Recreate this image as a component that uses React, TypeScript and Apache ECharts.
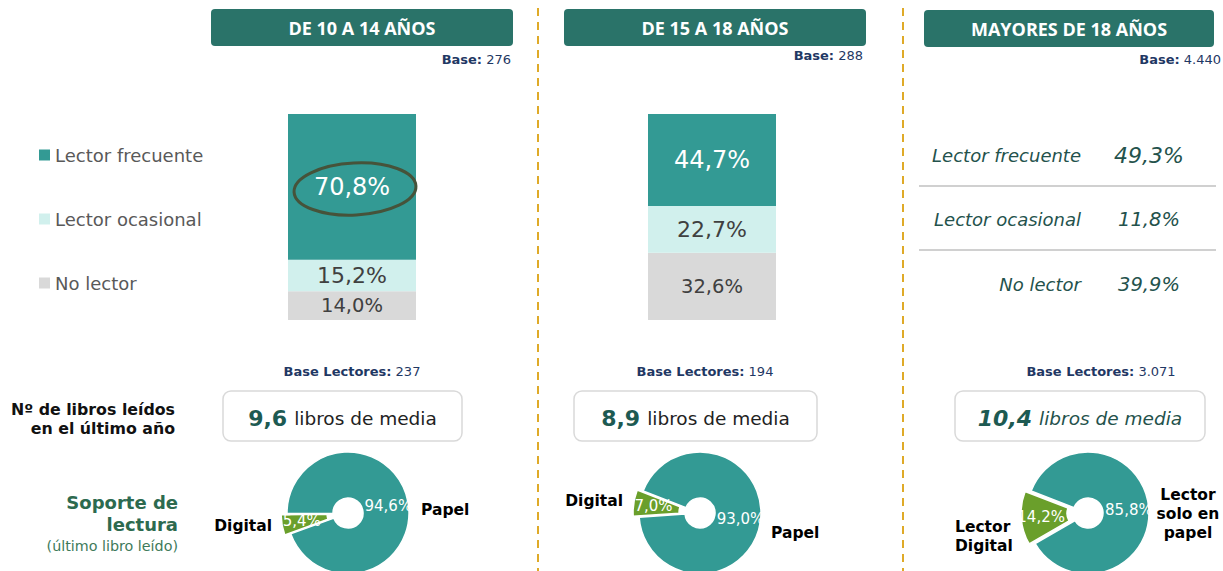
import React, { useEffect, useRef } from "react";
import * as echarts from "echarts";

const ageGroups = ["DE 10 A 14 AÑOS", "DE 15 A 18 AÑOS", "MAYORES DE 18 AÑOS"];
const bases = ["276", "288", "4.440"];
const readerBases = ["237", "194", "3.071"];
const readerTypes = ["Lector frecuente", "Lector ocasional", "No lector"];
const frecuente = [70.8, 44.7];
const ocasional = [15.2, 22.7];
const noLector = [14.0, 32.6];
const adultValues = [49.3, 11.8, 39.9];
const booksAvg = [9.6, 8.9, 10.4];
const digitalShare = [5.4, 7.0, 14.2];
const papelShare = [94.6, 93.0, 85.8];
const digitalLabels = ["Digital", "Digital", "Lector\nDigital"];
const papelLabels = ["Papel", "Papel", "Lector\nsolo en\npapel"];

const FONT = "'DejaVu Sans', Verdana, sans-serif";
const TEAL = "#339a94";
const LIGHT = "#d1f0ed";
const GREY = "#d9d9d9";
const HEADER = "#2a7369";
const GREEN = "#6a9f2b";
const NAVY = "#1f3864";
const DARKTEAL = "#24524c";

const fmt = (v: number) => v.toFixed(1).replace(".", ",") + "%";

export default function App() {
  const ref = useRef<HTMLDivElement>(null);
  useEffect(() => {
    if (!ref.current) return;
    const chart = echarts.init(ref.current, null, { renderer: "svg" });

    const barLefts = [288, 648];
    const grids = barLefts.map((l) => ({ left: l, width: 128, top: 114, height: 206 }));
    const xAxes = barLefts.map((_, i) => ({ type: "category", gridIndex: i, data: [ageGroups[i]], show: false }));
    const yAxes = barLefts.map((_, i) => ({ type: "value", gridIndex: i, min: 0, max: 100, show: false }));
    const barSeries: any[] = [];
    barLefts.forEach((_, i) => {
      const parts = [
        { name: readerTypes[2], v: noLector[i], c: GREY, lc: "#404040", fs: 19.5 },
        { name: readerTypes[1], v: ocasional[i], c: LIGHT, lc: "#404040", fs: 22 },
        { name: readerTypes[0], v: frecuente[i], c: TEAL, lc: "#fff", fs: 24 },
      ];
      parts.forEach((p) => {
        barSeries.push({
          type: "bar",
          name: p.name,
          stack: "s" + i,
          xAxisIndex: i,
          yAxisIndex: i,
          barWidth: 128,
          silent: true,
          itemStyle: { color: p.c },
          data: [p.v],
          label: {
            show: true,
            position: "inside",
            color: p.lc,
            fontSize: p.fs,
            fontFamily: FONT,
            formatter: (d: any) => fmt(d.value),
          },
        });
      });
    });

    const pieCenters = [
      [348, 513],
      [700, 513],
      [1088, 513],
    ];
    const startAngles = [200, 184, 210];
    const pieSeries = pieCenters.map((c, i) => ({
      type: "pie",
      center: c,
      radius: [15, 61],
      startAngle: startAngles[i],
      clockwise: true,
      selectedMode: "single",
      selectedOffset: 6,
      avoidLabelOverlap: false,
      silent: true,
      emphasis: { disabled: true },
      itemStyle: { borderColor: "#fff", borderWidth: 1.5 },
      label: {
        show: true,
        position: "inside",
        color: "#fff",
        fontSize: 15,
        fontFamily: FONT,
        formatter: (d: any) => fmt(d.value),
      },
      labelLine: { show: false },
      data: [
        { name: "Digital", value: digitalShare[i], selected: true, itemStyle: { color: GREEN } },
        { name: "Papel", value: papelShare[i], itemStyle: { color: TEAL } },
      ],
    }));

    const headerBoxes = [
      { x: 211, w: 302, y: 9 },
      { x: 564, w: 302, y: 9 },
      { x: 924, w: 290, y: 10 },
    ];
    const baseRight = [
      [511, 59],
      [863, 55],
      [1221, 59],
    ];
    const lectorCenters = [352, 705, 1101];
    const mediaBoxes = [
      { x: 223, w: 239 },
      { x: 574, w: 243 },
      { x: 955, w: 250 },
    ];

    const g: any[] = [];
    [538, 903].forEach((x) =>
      g.push({
        type: "line",
        shape: { x1: x, y1: 8, x2: x, y2: 571 },
        style: { stroke: "#dfaa28", lineWidth: 2, lineDash: [8, 6] },
      })
    );
    headerBoxes.forEach((b, i) => {
      g.push({
        type: "rect",
        shape: { x: b.x, y: b.y, width: b.w, height: 37, r: 4 },
        style: { fill: HEADER },
      });
      g.push({
        type: "text",
        x: b.x + b.w / 2,
        y: b.y + 19,
        style: {
          text: ageGroups[i],
          align: "center",
          verticalAlign: "middle",
          fill: "#fff",
          fontSize: 18,
          fontWeight: "bold",
          fontFamily: "'Open Sans', sans-serif",
        },
      });
      g.push({
        type: "text",
        x: baseRight[i][0],
        y: baseRight[i][1],
        style: {
          text: "{b|Base:} " + bases[i],
          align: "right",
          verticalAlign: "middle",
          fill: NAVY,
          fontSize: 13,
          fontFamily: FONT,
          rich: { b: { fontWeight: "bold", fontSize: 13, fontFamily: FONT, fill: NAVY } },
        },
      });
      g.push({
        type: "text",
        x: lectorCenters[i],
        y: 371,
        style: {
          text: "{b|Base Lectores:} " + readerBases[i],
          align: "center",
          verticalAlign: "middle",
          fill: NAVY,
          fontSize: 13,
          fontFamily: FONT,
          rich: { b: { fontWeight: "bold", fontSize: 13, fontFamily: FONT, fill: NAVY } },
        },
      });
      const m = mediaBoxes[i];
      g.push({
        type: "rect",
        shape: { x: m.x, y: 391, width: m.w, height: 50, r: 8 },
        style: { fill: "#fff", stroke: "#d9d9d9", lineWidth: 1.5 },
      });
      const it = i === 2 ? "italic" : "normal";
      g.push({
        type: "text",
        x: m.x + m.w / 2,
        y: 418,
        style: {
          text: "{b|" + booksAvg[i].toFixed(1).replace(".", ",") + "}{n|libros de media}",
          align: "center",
          verticalAlign: "middle",
          rich: {
            b: {
              fontWeight: "bold",
              fontSize: 22,
              fontFamily: FONT,
              fill: "#1d5a52",
              fontStyle: it,
              padding: [0, 7, 0, 0],
            },
            n: { fontSize: 18.5, fontFamily: FONT, fill: i === 2 ? DARKTEAL : "#222", fontStyle: it },
          },
        },
      });
    });

    g.push({
      type: "ellipse",
      z: 100,
      x: 355,
      y: 189,
      rotation: 0.05,
      shape: { cx: 0, cy: 0, rx: 61, ry: 26 },
      style: { fill: "none", stroke: "#46533a", lineWidth: 3 },
    });

    const rowY = [155, 219, 284];
    readerTypes.forEach((t, i) => {
      g.push({
        type: "text",
        x: 1081,
        y: rowY[i],
        style: {
          text: t,
          align: "right",
          verticalAlign: "middle",
          fill: DARKTEAL,
          fontSize: 18,
          fontStyle: "italic",
          fontFamily: FONT,
        },
      });
      g.push({
        type: "text",
        x: 1149,
        y: rowY[i],
        style: {
          text: fmt(adultValues[i]),
          align: "center",
          verticalAlign: "middle",
          fill: DARKTEAL,
          fontSize: i === 0 ? 22 : 19.5,
          fontStyle: "italic",
          fontFamily: FONT,
        },
      });
    });
    [186, 250].forEach((y) =>
      g.push({
        type: "line",
        shape: { x1: 919, y1: y, x2: 1216, y2: y },
        style: { stroke: "#d0d0d0", lineWidth: 2 },
      })
    );

    g.push({
      type: "text",
      x: 175,
      y: 419,
      style: {
        text: "Nº de libros leídos\nen el último año",
        align: "right",
        verticalAlign: "middle",
        fill: "#111",
        fontSize: 15.8,
        lineHeight: 19,
        fontWeight: "bold",
        fontFamily: FONT,
      },
    });
    g.push({
      type: "text",
      x: 178,
      y: 513,
      style: {
        text: "Soporte de\nlectura",
        align: "right",
        verticalAlign: "middle",
        fill: "#2d6a4f",
        fontSize: 18,
        lineHeight: 22,
        fontWeight: "bold",
        fontFamily: FONT,
      },
    });
    g.push({
      type: "text",
      x: 178,
      y: 546,
      style: {
        text: "(último libro leído)",
        align: "right",
        verticalAlign: "middle",
        fill: "#3d7a5a",
        fontSize: 14.3,
        fontFamily: FONT,
      },
    });

    const dlPos = [
      [272, 526, "right"],
      [623, 501, "right"],
      [955, 536, "left"],
    ];
    const plPos = [
      [421, 510, "left"],
      [771, 533, "left"],
      [1188, 514, "center"],
    ];
    pieCenters.forEach((_, i) => {
      g.push({
        type: "text",
        x: dlPos[i][0],
        y: dlPos[i][1],
        style: {
          text: digitalLabels[i],
          align: dlPos[i][2],
          verticalAlign: "middle",
          fill: "#000",
          fontSize: 15.5,
          lineHeight: 19,
          fontWeight: "bold",
          fontFamily: FONT,
        },
      });
      g.push({
        type: "text",
        x: plPos[i][0],
        y: plPos[i][1],
        style: {
          text: papelLabels[i],
          align: plPos[i][2],
          verticalAlign: "middle",
          fill: "#000",
          fontSize: 15.5,
          lineHeight: 19,
          fontWeight: "bold",
          fontFamily: FONT,
        },
      });
    });

    chart.setOption({
      animation: false,
      backgroundColor: "#fff",
      legend: {
        data: readerTypes,
        orient: "vertical",
        left: 39,
        top: 145,
        padding: 0,
        itemWidth: 11,
        itemHeight: 11,
        itemGap: 44,
        icon: "rect",
        selectedMode: false,
        textStyle: { fontSize: 18, color: "#595959", fontFamily: FONT, lineHeight: 20 },
      },
      grid: grids,
      xAxis: xAxes,
      yAxis: yAxes,
      series: [...barSeries, ...pieSeries],
      graphic: g,
    });
    return () => chart.dispose();
  }, []);
  return (
    <div
      ref={ref}
      style={{ position: "absolute", left: 0, top: 0, width: 1223, height: 571, background: "#fff" }}
    />
  );
}
